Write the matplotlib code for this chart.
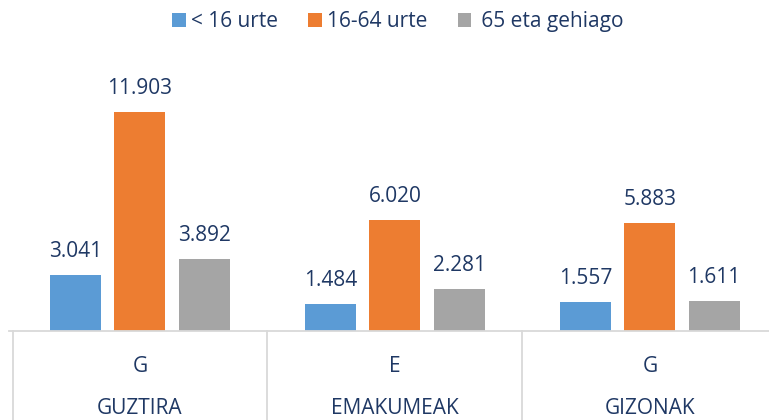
import matplotlib.pyplot as plt
import numpy as np

plt.rcParams['font.family'] = ['Open Sans', 'DejaVu Sans']

groups = ['GUZTIRA', 'EMAKUMEAK', 'GIZONAK']
sub_labels = ['G', 'E', 'G']
series = ['< 16 urte', '16-64 urte', ' 65 eta gehiago']
values = [
    [3041, 1484, 1557],
    [11903, 6020, 5883],
    [3892, 2281, 1611],
]
colors = ['#5b9bd5', '#ed7d31', '#a5a5a5']
txt = '#1f3864'

fig = plt.figure(figsize=(7.69, 4.20), dpi=100)
# axes runs a bit past the right edge, like the original
ax = fig.add_axes([12.5 / 769, 89 / 420, 765 / 769, 258 / 420])

yk = 14000 / 258  # data units per pixel
x = np.arange(len(groups))
w = 0.2
step = 0.251
for i, (name, vals) in enumerate(zip(series, values)):
    pos = x + (i - 1) * step
    bars = ax.bar(pos, vals, w, color=colors[i], label=name, zorder=3)
    for b, v in zip(bars, vals):
        s = f"{v:,}".replace(',', '.')
        ax.text(b.get_x() + b.get_width() / 2, v + 18 * yk, s, ha='center', va='baseline',
                fontsize=15, color=txt)

ax.set_xlim(-0.5, 2.5)
ax.set_ylim(0, 14000)
ax.axis('off')

# baseline and group separators below the plot
line_col = '#d9d9d9'
ax.plot([-0.515, 2.5], [0, 0], color=line_col, lw=1.3, clip_on=False, zorder=4)
for sx in [-0.5, 0.5, 1.5]:
    ax.plot([sx, sx], [0, -95 * yk], color=line_col, lw=1.3, clip_on=False)

for i in range(len(groups)):
    ax.text(x[i], -41 * yk, sub_labels[i], ha='center', va='baseline', fontsize=15, color=txt)
    ax.text(x[i], -83.5 * yk, groups[i], ha='center', va='baseline', fontsize=15, color=txt)

fig.legend(loc='center', bbox_to_anchor=(398 / 769, 1 - 21.5 / 420), ncol=3, frameon=False,
           fontsize=15, labelcolor=txt, handlelength=0.65, handleheight=0.65,
           handletextpad=0.25, columnspacing=1.45)

fig.savefig('out.png', dpi=100)
